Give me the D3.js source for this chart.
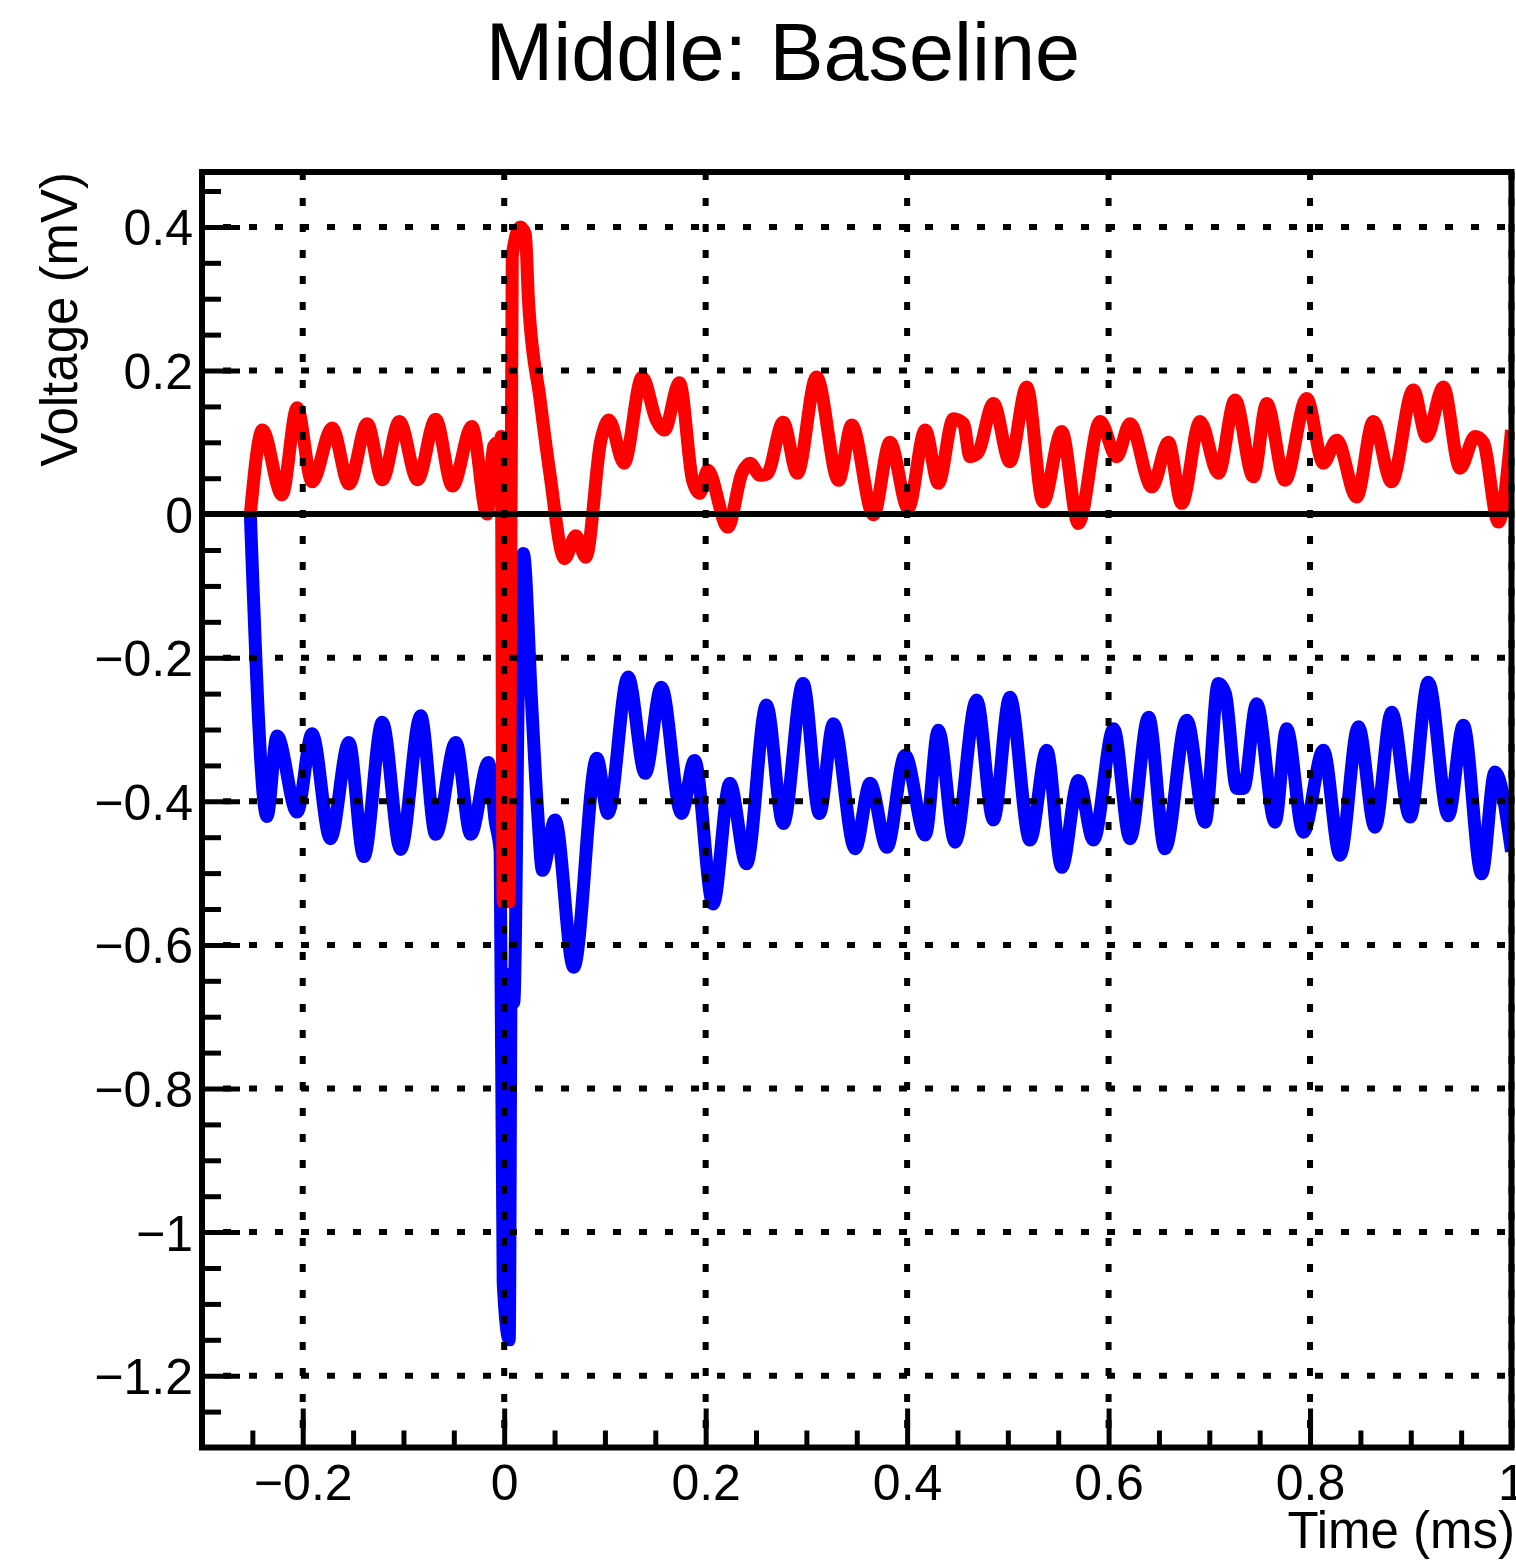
<!DOCTYPE html>
<html>
<head>
<meta charset="utf-8">
<script src="https://cdn.jsdelivr.net/npm/d3@7/dist/d3.min.js"></script>
<style>
  body { margin: 0; background: #fff; }
  text { font-family: "Liberation Sans", Arial, Helvetica, sans-serif; }
</style>
</head>
<body>
<script>
// Middle channel, baseline recording

// red trace: time (ms) and voltage (mV)
var redTime = [-0.252, -0.240, -0.2206, -0.2056, -0.1907, -0.1708, -0.154, -0.136, -0.121, -0.104,
  -0.086, -0.068, -0.0514, -0.032, -0.017, -0.0106, -0.006, -0.004, -0.003, -0.001,
  0.005, 0.008, 0.016, 0.021, 0.0241, 0.0357, 0.045, 0.060, 0.071, 0.081,
  0.096, 0.104, 0.119, 0.137, 0.151, 0.159, 0.174, 0.187, 0.194, 0.202,
  0.222, 0.236, 0.244, 0.254, 0.261, 0.277, 0.291, 0.310, 0.332, 0.345,
  0.3666, 0.383, 0.401, 0.418, 0.431, 0.446, 0.456, 0.4625, 0.470, 0.4857,
  0.502, 0.5188, 0.535, 0.5535, 0.570, 0.5916, 0.608, 0.6213, 0.643, 0.6594,
  0.6726, 0.6908, 0.709, 0.7256, 0.7437, 0.757, 0.7752, 0.7967, 0.8132, 0.8265,
  0.8463, 0.8628, 0.881, 0.9025, 0.9157, 0.9323, 0.9489, 0.9638, 0.972, 0.987, 1.0];
var redVolt = [0.0, 0.117, 0.027, 0.148, 0.045, 0.120, 0.042, 0.126, 0.048, 0.129,
  0.048, 0.132, 0.039, 0.122, 0.0, 0.094, 0.100, 0.090, 0.108, -0.540,
  -0.540, 0.360, 0.400, 0.390, 0.298, 0.159, 0.060, -0.062, -0.030, -0.060,
  0.103, 0.131, 0.071, 0.191, 0.131, 0.117, 0.183, 0.047, 0.029, 0.061,
  -0.018, 0.057, 0.071, 0.054, 0.056, 0.128, 0.057, 0.191, 0.047, 0.124,
  -0.001, 0.100, 0.008, 0.117, 0.043, 0.133, 0.126, 0.080, 0.085, 0.154,
  0.073, 0.177, 0.017, 0.115, -0.013, 0.129, 0.080, 0.126, 0.038, 0.100,
  0.015, 0.129, 0.057, 0.159, 0.052, 0.154, 0.047, 0.161, 0.071, 0.103,
  0.024, 0.129, 0.045, 0.173, 0.108, 0.177, 0.064, 0.108, 0.100, -0.011, 0.117];

// blue trace: time (ms) and voltage (mV)
var blueTime = [-0.252, -0.2355, -0.2255, -0.2056, -0.1907, -0.1725, -0.1542, -0.1393, -0.121, -0.1028,
  -0.0829, -0.068, -0.048, -0.0332, -0.0156, -0.009, -0.004, -0.001, 0.005, 0.007,
  0.0095, 0.0155, 0.019, 0.027, 0.033, 0.038, 0.0505, 0.069, 0.092, 0.103,
  0.123, 0.140, 0.156, 0.176, 0.189, 0.2074, 0.224, 0.2405, 0.2604, 0.277,
  0.2967, 0.313, 0.3268, 0.3484, 0.3633, 0.380, 0.398, 0.418, 0.431, 0.4476,
  0.469, 0.4857, 0.502, 0.522, 0.5387, 0.5535, 0.570, 0.585, 0.605, 0.6213,
  0.6397, 0.656, 0.6776, 0.6958, 0.709, 0.716, 0.7272, 0.734, 0.747, 0.7653,
  0.7768, 0.7934, 0.8132, 0.8298, 0.848, 0.8645, 0.881, 0.8993, 0.9175, 0.9373,
  0.9522, 0.9704, 0.9836, 1.0];
var blueVolt = [0.0, -0.421, -0.309, -0.415, -0.306, -0.452, -0.318, -0.477, -0.290, -0.467,
  -0.281, -0.446, -0.318, -0.446, -0.346, -0.427, -0.470, -1.070, -1.150, -0.640,
  -0.680, -0.120, -0.055, -0.257, -0.410, -0.496, -0.426, -0.631, -0.340, -0.417,
  -0.227, -0.361, -0.241, -0.417, -0.343, -0.543, -0.375, -0.487, -0.266, -0.431,
  -0.236, -0.417, -0.292, -0.466, -0.375, -0.464, -0.336, -0.447, -0.301, -0.457,
  -0.259, -0.426, -0.255, -0.454, -0.329, -0.492, -0.371, -0.454, -0.299, -0.452,
  -0.283, -0.466, -0.287, -0.429, -0.236, -0.250, -0.382, -0.382, -0.264, -0.429,
  -0.299, -0.443, -0.329, -0.475, -0.296, -0.436, -0.276, -0.422, -0.234, -0.420,
  -0.294, -0.501, -0.359, -0.470];

// axis ticks
var xMajor = [-0.2, 0, 0.2, 0.4, 0.6, 0.8, 1.0];
var xMinor = [-0.25, -0.15, -0.1, -0.05, 0.05, 0.1, 0.15, 0.25, 0.3, 0.35, 0.45, 0.5, 0.55,
  0.65, 0.7, 0.75, 0.85, 0.9, 0.95];
var yMajor = [-1.2, -1.0, -0.8, -0.6, -0.4, -0.2, 0, 0.2, 0.4];
var yMinor = [-1.25, -1.15, -1.1, -1.05, -0.95, -0.9, -0.85, -0.75, -0.7, -0.65, -0.55, -0.5, -0.45,
  -0.35, -0.3, -0.25, -0.15, -0.1, -0.05, 0.05, 0.1, 0.15, 0.25, 0.3, 0.35, 0.45];

var W = 1516, H = 1561;
var frame = {left: 202, right: 1511.5, top: 172, bottom: 1447.5};

var svg = d3.select("body").append("svg")
    .attr("width", W)
    .attr("height", H);

var x = d3.scaleLinear().domain([-0.3, 1.0]).range([frame.left, frame.right]);
var y = d3.scaleLinear().domain([-1.3, 0.4765]).range([frame.bottom, frame.top]);

svg.append("clipPath").attr("id", "plot")
  .append("rect")
    .attr("x", frame.left).attr("y", frame.top)
    .attr("width", frame.right - frame.left)
    .attr("height", frame.bottom - frame.top);

var line = d3.line()
    .x(function(d) { return x(d[0]); })
    .y(function(d) { return y(d[1]); })
    .curve(d3.curveMonotoneX);

var blue = d3.zip(blueTime, blueVolt);
var red = d3.zip(redTime, redVolt);

// blue first, red on top of it
svg.append("path")
    .datum(blue)
    .attr("clip-path", "url(#plot)")
    .attr("fill", "none")
    .attr("stroke", "#0000ff")
    .attr("stroke-width", 13)
    .attr("stroke-linejoin", "round")
    .attr("d", line);

svg.append("path")
    .datum(red)
    .attr("clip-path", "url(#plot)")
    .attr("fill", "none")
    .attr("stroke", "#ff0000")
    .attr("stroke-width", 13)
    .attr("stroke-linejoin", "round")
    .attr("d", line);

// dotted grid
svg.selectAll("line.hgrid")
    .data(yMajor)
  .enter().append("line")
    .attr("class", "hgrid")
    .attr("x1", frame.left).attr("x2", frame.right)
    .attr("y1", function(d) { return y(d); })
    .attr("y2", function(d) { return y(d); })
    .attr("stroke", "#000")
    .attr("stroke-width", 6)
    .attr("stroke-dasharray", "8 18")
    .attr("stroke-dashoffset", 5);

svg.selectAll("line.vgrid")
    .data(xMajor)
  .enter().append("line")
    .attr("class", "vgrid")
    .attr("y1", frame.top).attr("y2", frame.bottom)
    .attr("x1", function(d) { return x(d); })
    .attr("x2", function(d) { return x(d); })
    .attr("stroke", "#000")
    .attr("stroke-width", 6)
    .attr("stroke-dasharray", "8 18");

// zero line
svg.append("line")
    .attr("x1", frame.left).attr("x2", frame.right)
    .attr("y1", y(0)).attr("y2", y(0))
    .attr("stroke", "#000")
    .attr("stroke-width", 6);

var fmt = d3.format("~g");

// x axis
var xAxis = svg.append("g")
    .attr("transform", "translate(0," + frame.bottom + ")")
    .call(d3.axisBottom(x).tickValues(xMajor).tickSize(-39).tickPadding(17).tickFormat(fmt));
var xAxisMinor = svg.append("g")
    .attr("transform", "translate(0," + frame.bottom + ")")
    .call(d3.axisBottom(x).tickValues(xMinor).tickSize(-17).tickFormat(""));

// y axis
var yAxis = svg.append("g")
    .attr("transform", "translate(" + frame.left + ",0)")
    .call(d3.axisLeft(y).tickValues(yMajor).tickSize(-38).tickPadding(9).tickFormat(fmt));
var yAxisMinor = svg.append("g")
    .attr("transform", "translate(" + frame.left + ",0)")
    .call(d3.axisLeft(y).tickValues(yMinor).tickSize(-19).tickFormat(""));

[xAxis, xAxisMinor, yAxis, yAxisMinor].forEach(function(g) {
  g.select(".domain").remove();
  g.selectAll(".tick line").attr("stroke", "#000").attr("stroke-width", 5);
  g.selectAll(".tick text")
      .attr("fill", "#000")
      .style("font-family", '"Liberation Sans", Arial, Helvetica, sans-serif')
      .style("font-size", "50px");
});
yAxis.selectAll(".tick text").attr("dy", "0.36em");

// frame
svg.append("rect")
    .attr("x", frame.left).attr("y", frame.top)
    .attr("width", frame.right - frame.left)
    .attr("height", frame.bottom - frame.top)
    .attr("fill", "none")
    .attr("stroke", "#000")
    .attr("stroke-width", 6);

// titles
svg.append("text")
    .attr("x", 783).attr("y", 80)
    .attr("text-anchor", "middle")
    .style("font-size", "81px")
    .text("Middle: Baseline");

svg.append("text")
    .attr("x", 1515).attr("y", 1548)
    .attr("text-anchor", "end")
    .style("font-size", "51px")
    .text("Time (ms)");

svg.append("text")
    .attr("transform", "translate(77," + frame.top + ") rotate(-90)")
    .attr("text-anchor", "end")
    .style("font-size", "51px")
    .text("Voltage (mV)");
</script>
</body>
</html>
